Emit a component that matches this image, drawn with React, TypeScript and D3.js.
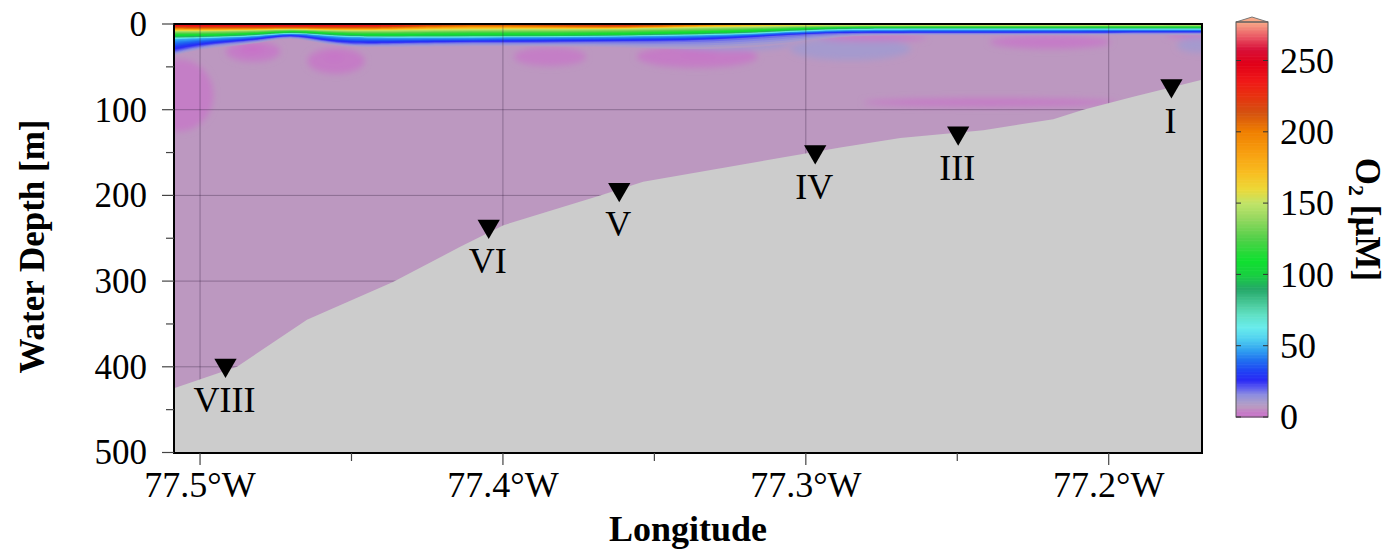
import React, { useRef, useEffect } from "react";
import * as d3 from "d3";

// surface layer profile columns (deg W)
const colLon = [77.51, 77.5, 77.49, 77.48, 77.47, 77.46, 77.45, 77.44, 77.42, 77.4, 77.38, 77.36, 77.34, 77.32, 77.305, 77.29, 77.27, 77.24, 77.21, 77.18, 77.165];
// O2 at the surface and depth (m) of the 200/150/100/50/20/8 uM isolines
const surfaceO2 = [255, 258, 258, 260, 263, 260, 258, 255, 230, 224, 234, 246, 216, 196, 182, 176, 178, 176, 175, 172, 170];
const depth200 = [5, 5.5, 5, 5, 4.5, 5, 5, 5, 2.5, 2, 3, 4, 1.5, null, null, null, null, null, null, null, null];
const depth150 = [8, 8, 7.5, 7, 5.5, 7, 7.5, 7.5, 6.5, 6, 6, 5.5, 4, 3, 2, 1.5, 1.5, 1.5, 1.5, 1.2, 1.2];
const depth100 = [14, 14, 13, 11.5, 8.5, 11, 13, 13.5, 13, 13, 13, 12.5, 11, 9.5, 6.5, 4.5, 4, 4, 4, 4, 4];
const depth50 = [18, 16.5, 15.5, 14, 10, 13.5, 15.5, 16, 16, 15.5, 15, 14.5, 13.5, 12, 9, 7, 6.5, 6.5, 6.5, 6.5, 6.5];
const depth20 = [33, 25, 21.5, 18.5, 12.5, 19.5, 23.5, 23, 21.5, 21.5, 21, 20.5, 20, 16.5, 12.5, 10.5, 10.5, 10.5, 10.5, 10, 10];
const depth8 = [38, 29, 26, 22, 15, 23, 27, 27, 26, 26, 26, 27, 30, 28, 24, 14, 13, 13, 13, 13, 13];
const baseO2 = 7;

// low / high O2 patches below the oxycline
const patchLon = [77.5066, 77.4825, 77.483, 77.4551, 77.4558, 77.3845, 77.3359, 77.3349, 77.325, 77.2853, 77.278, 77.2193, 77.2391, 77.173, 77.1704];
const patchDepth = [83, 32, 29.5, 43, 38, 38, 38, 33, 23, 29, 16, 21, 91.5, 13, 24.5];
const patchRLon = [0.011, 0.009, 0.004, 0.0095, 0.003, 0.012, 0.02, 0.0066, 0.02, 0.02, 0.018, 0.02, 0.042, 0.008, 0.007];
const patchRDepth = [42, 12, 4.5, 15, 3.5, 11, 13, 3.5, 8, 13, 4, 8, 5, 3.5, 9];
const patchO2 = [4, 3, 0, 3.5, 1, 4, 3.5, 1.5, 12, 11.5, 3.5, 3, 3.5, 3.5, 11.5];

// seafloor
const bathyLon = [77.5086, 77.4878, 77.4647, 77.4363, 77.4141, 77.4, 77.3679, 77.3537, 77.2886, 77.2688, 77.2414, 77.2183, 77.2084, 77.1919, 77.1691];
const bathyDepth = [425, 400, 345, 301, 260, 235, 200, 184, 144, 133, 124, 111, 100, 85, 65];

// stations
const stationName = ["VIII", "VI", "V", "IV", "III", "I"];
const stationLon = [77.4916, 77.4047, 77.3616, 77.2969, 77.2497, 77.1793];
const stationDepth = [398, 236, 193, 149, 127, 72];

const depthTicks = [0, 100, 200, 300, 400, 500];
const lonTicks = [77.5, 77.4, 77.3, 77.2];
const cbTicks = [0, 50, 100, 150, 200, 250];

const cmapValues = [0, 4, 7, 11, 16, 21, 26, 32, 40, 47, 55, 63, 72, 80, 90, 100, 110, 125, 140, 150, 160, 172, 185, 200, 214, 226, 236, 248, 258, 266, 277];
const cmapColors = ["#c870c8", "#c47ec6", "#bc98c0", "#a89ccc", "#8c8ce0", "#5a5af0", "#2a2af5", "#2040f5", "#2070f0", "#30a0f0", "#50d0f0", "#68ecec", "#60e0c4", "#48c898", "#24a868", "#18d040", "#10e030", "#50d048", "#98d860", "#c0e468", "#ecd838", "#f8bc20", "#f8a010", "#f08000", "#d45010", "#e83010", "#f01818", "#e00018", "#d81038", "#e85060", "#f8a888"];

const FONT = "'Liberation Serif', 'Times New Roman', serif";

function isoDepth(nodes: [number, number][], t: number) {
  if (t >= nodes[0][1]) return 0;
  for (let i = 1; i < nodes.length; i++) {
    const [d0, v0] = nodes[i - 1];
    const [d1, v1] = nodes[i];
    if (t >= v1) return d0 + ((d1 - d0) * (v0 - t)) / (v0 - v1);
  }
  return nodes[nodes.length - 1][0];
}

export default function App() {
  const ref = useRef<SVGSVGElement>(null);

  useEffect(() => {
    const svg = d3.select(ref.current);
    svg.selectAll("*").remove();

    const left = 174, right = 1202, top = 24, bottom = 453;
    const x = d3.scaleLinear().domain([77.5086, 77.1692]).range([left, right]);
    const y = d3.scaleLinear().domain([0, 500]).range([24, 452.5]);
    const color = d3.scaleLinear<string>().domain(cmapValues).range(cmapColors).interpolate(d3.interpolateRgb).clamp(true);

    const defs = svg.append("defs");
    defs.append("clipPath").attr("id", "plotClip")
      .append("rect").attr("x", left).attr("y", top).attr("width", right - left).attr("height", bottom - top);
    const blur = defs.append("filter").attr("id", "soft")
      .attr("x", "-50%").attr("y", "-50%").attr("width", "200%").attr("height", "200%");
    blur.append("feGaussianBlur").attr("stdDeviation", 3);

    const field = svg.append("g").attr("clip-path", "url(#plotClip)");
    field.append("rect")
      .attr("x", left).attr("y", top).attr("width", right - left).attr("height", bottom - top)
      .attr("fill", color(baseO2));

    // patches
    const pg = field.append("g").attr("filter", "url(#soft)");
    patchLon.forEach((lon, i) => {
      pg.append("ellipse")
        .attr("cx", x(lon))
        .attr("cy", y(patchDepth[i]))
        .attr("rx", Math.abs(x(lon + patchRLon[i]) - x(lon)))
        .attr("ry", y(patchRDepth[i]) - y(0))
        .attr("fill", color(patchO2[i]));
    });

    // surface oxycline, painted from low to high O2
    const nodes = colLon.map((_, j) => {
      const n: [number, number][] = [[0, surfaceO2[j]]];
      if (depth200[j] != null) n.push([depth200[j] as number, 200]);
      n.push([depth150[j], 150], [depth100[j], 100], [depth50[j], 50], [depth20[j], 20], [depth8[j], 8]);
      return n;
    });
    const area = d3.area<number>()
      .x((_, j) => x(colLon[j]))
      .y0(y(0) - 3)
      .y1((d) => y(d))
      .curve(d3.curveBasis);
    d3.range(8, 272, 2.5).forEach((t) => {
      field.append("path")
        .datum(nodes.map((n) => isoDepth(n, t)))
        .attr("d", area)
        .attr("fill", color(t + 1.25));
    });

    // grid
    const grid = field.append("g").attr("stroke", "rgba(50,30,60,0.35)").attr("stroke-width", 1);
    depthTicks.slice(1, -1).forEach((d) => {
      grid.append("line").attr("x1", left).attr("x2", right).attr("y1", y(d)).attr("y2", y(d));
    });
    lonTicks.forEach((l) => {
      grid.append("line").attr("x1", x(l)).attr("x2", x(l)).attr("y1", top).attr("y2", bottom);
    });

    // seafloor
    const seafloor = d3.area<number>()
      .x((_, i) => x(bathyLon[i]))
      .y0(bottom + 2)
      .y1((d) => y(d));
    field.append("path").datum(bathyDepth).attr("d", seafloor).attr("fill", "#cccccc");

    // frame
    svg.append("rect")
      .attr("x", left).attr("y", top).attr("width", right - left).attr("height", bottom - top)
      .attr("fill", "none").attr("stroke", "#000").attr("stroke-width", 2);

    // axes ticks
    const ticks = svg.append("g").attr("stroke", "#444").attr("stroke-width", 1.2);
    d3.range(0, 501, 50).forEach((d) => {
      const len = d % 100 === 0 ? 12 : 8;
      ticks.append("line").attr("x1", left - len).attr("x2", left).attr("y1", y(d)).attr("y2", y(d));
    });
    [77.5, 77.45, 77.4, 77.35, 77.3, 77.25, 77.2].forEach((l, i) => {
      const len = i % 2 === 0 ? 12 : 8;
      ticks.append("line").attr("x1", x(l)).attr("x2", x(l)).attr("y1", bottom).attr("y2", bottom + len);
    });

    const txt = svg.append("g").attr("font-family", FONT).attr("fill", "#000");
    depthTicks.forEach((d) => {
      txt.append("text").attr("x", 147).attr("y", y(d)).attr("dy", "0.34em")
        .attr("text-anchor", "end").attr("font-size", 35).text(d);
    });
    lonTicks.forEach((l) => {
      txt.append("text").attr("x", x(l)).attr("y", 497)
        .attr("text-anchor", "middle").attr("font-size", 36).text(`${l.toFixed(1)}°W`);
    });
    txt.append("text").attr("x", (left + right) / 2).attr("y", 541)
      .attr("text-anchor", "middle").attr("font-size", 36).attr("font-weight", "bold").text("Longitude");
    txt.append("text").attr("transform", `translate(44, ${(top + bottom) / 2 + 8}) rotate(-90)`)
      .attr("text-anchor", "middle").attr("font-size", 35).attr("font-weight", "bold").text("Water Depth [m]");

    // stations
    const tri = d3.symbol().type(d3.symbolTriangle).size(215);
    stationName.forEach((name, i) => {
      const cx = x(stationLon[i]);
      const cy = y(stationDepth[i]);
      svg.append("path").attr("d", tri() as string)
        .attr("transform", `translate(${cx}, ${cy}) rotate(180)`).attr("fill", "#000");
      txt.append("text").attr("x", cx - 1).attr("y", cy + 47)
        .attr("text-anchor", "middle").attr("font-size", 36).text(name);
    });

    // colorbar
    const cbL = 1236, cbR = 1268;
    const cbY = d3.scaleLinear().domain([0, 277]).range([417, 22]);
    const cb = svg.append("g");
    d3.range(0, 277, 1).forEach((v) => {
      cb.append("rect").attr("x", cbL).attr("width", cbR - cbL)
        .attr("y", cbY(v + 1)).attr("height", cbY(v) - cbY(v + 1) + 0.6)
        .attr("fill", color(v + 0.5));
    });
    cb.append("path")
      .attr("d", `M${cbL},${cbY(277)}L${(cbL + cbR) / 2},${cbY(277) - 5}L${cbR},${cbY(277)}Z`)
      .attr("fill", color(277)).attr("stroke", "#777").attr("stroke-width", 1);
    cb.append("rect").attr("x", cbL).attr("y", cbY(277)).attr("width", cbR - cbL).attr("height", cbY(0) - cbY(277))
      .attr("fill", "none").attr("stroke", "#555").attr("stroke-width", 1);
    cbTicks.forEach((v) => {
      cb.append("line").attr("x1", cbL).attr("x2", cbL + 5).attr("y1", cbY(v)).attr("y2", cbY(v)).attr("stroke", "#333");
      cb.append("line").attr("x1", cbR - 5).attr("x2", cbR).attr("y1", cbY(v)).attr("y2", cbY(v)).attr("stroke", "#333");
      txt.append("text").attr("x", 1280).attr("y", cbY(v)).attr("dy", "0.34em")
        .attr("font-size", 36).text(v);
    });
    const o2 = txt.append("text").attr("transform", `translate(1356, ${(cbY(0) + cbY(277)) / 2}) rotate(90)`)
      .attr("text-anchor", "middle").attr("font-size", 35).attr("font-weight", "bold");
    o2.append("tspan").text("O");
    o2.append("tspan").attr("font-size", 22).attr("dy", 7).text("2");
    o2.append("tspan").attr("dy", -7).text(" [µM]");
  }, []);

  return (
    <svg ref={ref} width={1392} height={551} style={{ position: "absolute", left: 0, top: 0, background: "#fff" }} />
  );
}
